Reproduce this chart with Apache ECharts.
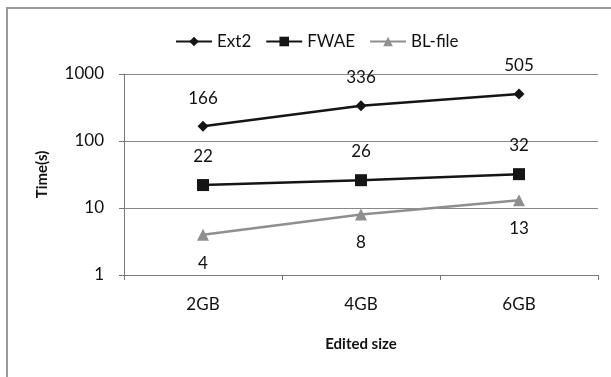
<!DOCTYPE html>
<html><head><meta charset="utf-8">
<script src="https://cdn.jsdelivr.net/npm/echarts@6/dist/echarts.min.js"></script>
<style>html,body{margin:0;padding:0;background:#fff}#c{width:611px;height:377px}</style>
</head><body><div id="c"></div>
<script>
const categories = ['2GB', '4GB', '6GB'];
const ext2 = [166, 336, 505];
const fwae = [22, 26, 32];
const blfile = [4, 8, 13];
const yTicks = [1, 10, 100, 1000];

const font = 'Lato, "Open Sans", sans-serif';
const chart = echarts.init(document.getElementById('c'));
chart.setOption({
  animation: false,
  backgroundColor: '#fff',
  textStyle: { fontFamily: font },
  graphic: [
    { type: 'polyline', shape: { points: [[7, 377], [7, 8], [611, 8]] }, style: { stroke: '#999', lineWidth: 2, fill: null } }
  ],
  legend: {
    top: 28, left: 170,
    itemWidth: 36, itemHeight: 12, itemGap: 14,
    textStyle: { fontSize: 17, color: '#111', fontFamily: font },
    data: ['Ext2', 'FWAE', 'BL-file']
  },
  grid: { left: 124, right: 13, top: 74, bottom: 102 },
  xAxis: {
    type: 'category', data: categories, boundaryGap: true,
    axisLine: { lineStyle: { color: '#777', width: 1 } },
    axisTick: { show: true, length: 5, lineStyle: { color: '#777' } },
    axisLabel: { fontSize: 17, color: '#111', margin: 21, fontFamily: font },
    name: 'Edited size', nameLocation: 'middle', nameGap: 62,
    nameTextStyle: { fontSize: 15, fontWeight: 'bold', color: '#111', fontFamily: font }
  },
  yAxis: {
    type: 'log', logBase: 10, min: yTicks[0], max: yTicks[yTicks.length - 1],
    axisLine: { show: true, lineStyle: { color: '#777' } },
    axisTick: { show: true, length: 5, lineStyle: { color: '#777' } },
    splitLine: { show: true, lineStyle: { color: '#888', width: 1 } },
    axisLabel: { fontSize: 17, color: '#111', margin: 20, fontFamily: font, formatter: v => String(Math.round(v)) },
    name: 'Time(s)', nameLocation: 'middle', nameGap: 74, nameRotate: 90,
    nameTextStyle: { fontSize: 15, fontWeight: 'bold', color: '#111', fontFamily: font }
  },
  series: [
    { name: 'Ext2', type: 'line', data: ext2, symbol: 'diamond', symbolSize: 11,
      lineStyle: { color: '#151515', width: 2.5 }, itemStyle: { color: '#151515' },
      label: { show: true, position: 'top', distance: 14, fontSize: 17, color: '#111', fontFamily: font } },
    { name: 'FWAE', type: 'line', data: fwae, symbol: 'rect', symbolSize: 12,
      lineStyle: { color: '#151515', width: 2.5 }, itemStyle: { color: '#151515' },
      label: { show: true, position: 'top', distance: 14, fontSize: 17, color: '#111', fontFamily: font } },
    { name: 'BL-file', type: 'line', data: blfile, symbol: 'triangle', symbolSize: 12,
      lineStyle: { color: '#8f8f8f', width: 2.5 }, itemStyle: { color: '#8f8f8f' },
      label: { show: true, position: 'bottom', distance: 14, fontSize: 17, color: '#111', fontFamily: font } }
  ]
});
</script></body></html>
